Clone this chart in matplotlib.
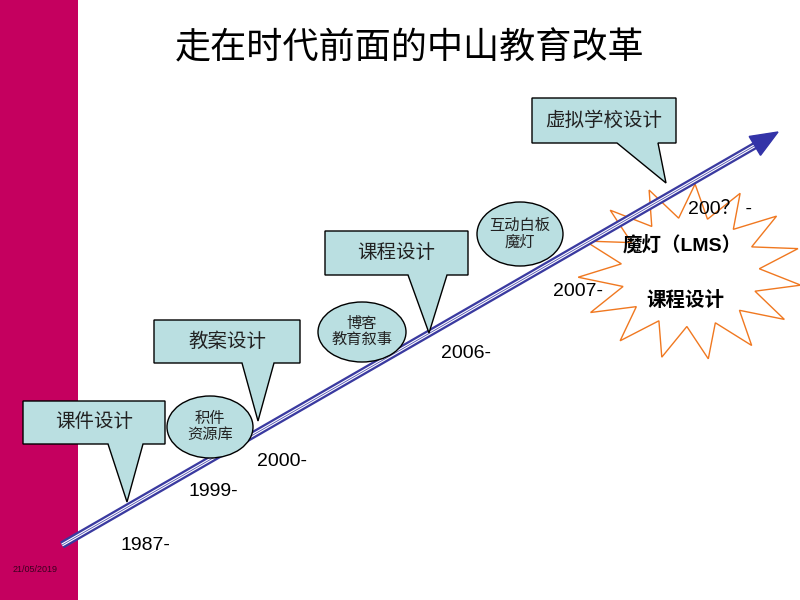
import numpy as np
import matplotlib
matplotlib.use("Agg")
import matplotlib.pyplot as plt
from matplotlib.patches import Polygon, Ellipse, Rectangle

plt.rcParams['font.family'] = ['Liberation Sans', 'Noto Sans CJK SC', 'DejaVu Sans']

# --- content ---
title = "走在时代前面的中山教育改革"
date_text = "21/05/2019"
years = ["1987-", "1999-", "2000-", "2006-", "2007-"]
callout_labels = ["课件设计", "教案设计", "课程设计", "虚拟学校设计"]
ellipse_labels = ["积件\n资源库", "博客\n教育叙事", "互动白板\n魔灯"]
star_lines = ["200？ -", "魔灯（LMS）", "课程设计"]

# --- layout (pixel coords, origin top-left) ---
year_pos = [(145, 545), (213, 492), (282, 461), (466, 353), (578, 291)]
# box x0, x1, y0, y1, base left, base right, tip x, tip y
callout_geo = [(23, 165, 401, 444, 108, 143, 127, 502),
               (154, 300, 320, 363, 242, 274, 258, 421),
               (325, 468, 231, 275, 408, 447, 429, 333),
               (532, 676, 98, 143, 617, 658, 666, 183)]
ellipse_geo = [(210, 427, 43, 31), (362, 332, 44, 30), (520, 234, 43, 32)]

fill = '#BADFE1'

fig = plt.figure(figsize=(8, 6), dpi=100)
ax = fig.add_axes([0, 0, 1, 1])
ax.set_xlim(0, 800)
ax.set_ylim(600, 0)
ax.axis('off')

ax.add_patch(Rectangle((0, 0), 78, 600, facecolor='#C5005F', edgecolor='none'))
ax.text(35, 569, date_text, fontsize=6.5, color='#3A0020', ha='center', va='center')

ax.text(410, 48, title, fontsize=26, ha='center', va='center',
        family=['Noto Sans CJK SC'])

# star (behind the arrow)
cx, cy = 690, 272
npts = 15
ang = np.linspace(0, 2 * np.pi, 2 * npts, endpoint=False) + 0.15
r = np.where(np.arange(2 * npts) % 2 == 0, 1.0, 0.62)
sx = cx + 112 * r * np.cos(ang)
sy = cy + 88 * r * np.sin(ang)
ax.add_patch(Polygon(np.column_stack([sx, sy]), closed=True, facecolor='none',
                     edgecolor='#F07820', lw=1, zorder=1))

# timeline arrow: double line
x0, y0, x1, y1 = 62, 545, 756, 145
ax.plot([x0, x1], [y0, y1], color='#3A3AA0', lw=5.5, solid_capstyle='butt', zorder=2)
ax.plot([x0, x1], [y0, y1], color='white', lw=2.2, solid_capstyle='butt', zorder=3)
ax.plot([x0, x1], [y0, y1], color='#5050B0', lw=0.6, solid_capstyle='butt', zorder=4)
d = np.array([778 - 753, 132 - 147.0])
d = d / np.linalg.norm(d)
n = np.array([-d[1], d[0]])
tip = np.array([778, 132.0])
base = tip - 27 * d
ax.add_patch(Polygon([tip, base + 11 * n, base - 11 * n], closed=True,
                     facecolor='#3333A8', edgecolor='#3333A8', zorder=5))

# callouts
for lab, (bx0, bx1, by0, by1, bl, br, tx, ty) in zip(callout_labels, callout_geo):
    pts = [(bx0, by0), (bx1, by0), (bx1, by1), (br, by1), (tx, ty), (bl, by1), (bx0, by1)]
    ax.add_patch(Polygon(pts, closed=True, facecolor=fill, edgecolor='black', lw=1, zorder=6))
    ax.text((bx0 + bx1) / 2, (by0 + by1) / 2, lab, fontsize=14, ha='center', va='center',
            color='#222222', zorder=7)

# ellipses
for lab, (cx, cy, rx, ry) in zip(ellipse_labels, ellipse_geo):
    ax.add_patch(Ellipse((cx, cy), 2 * rx, 2 * ry, facecolor=fill, edgecolor='black', lw=1, zorder=6))
    ax.text(cx, cy, lab, fontsize=11, ha='center', va='center', linespacing=1.2,
            color='#222222', zorder=7)

# years
for lab, (px, py) in zip(years, year_pos):
    ax.text(px, py, lab, fontsize=14, ha='center', va='center', zorder=7)

ax.text(720, 210, star_lines[0], fontsize=14, ha='center', va='center', zorder=7)
ax.text(682, 245, star_lines[1], fontsize=14, fontweight='bold', ha='center', va='center', zorder=7)
ax.text(685, 301, star_lines[2], fontsize=14, fontweight='bold', ha='center', va='center', zorder=7)

fig.savefig('out.png', dpi=100)
